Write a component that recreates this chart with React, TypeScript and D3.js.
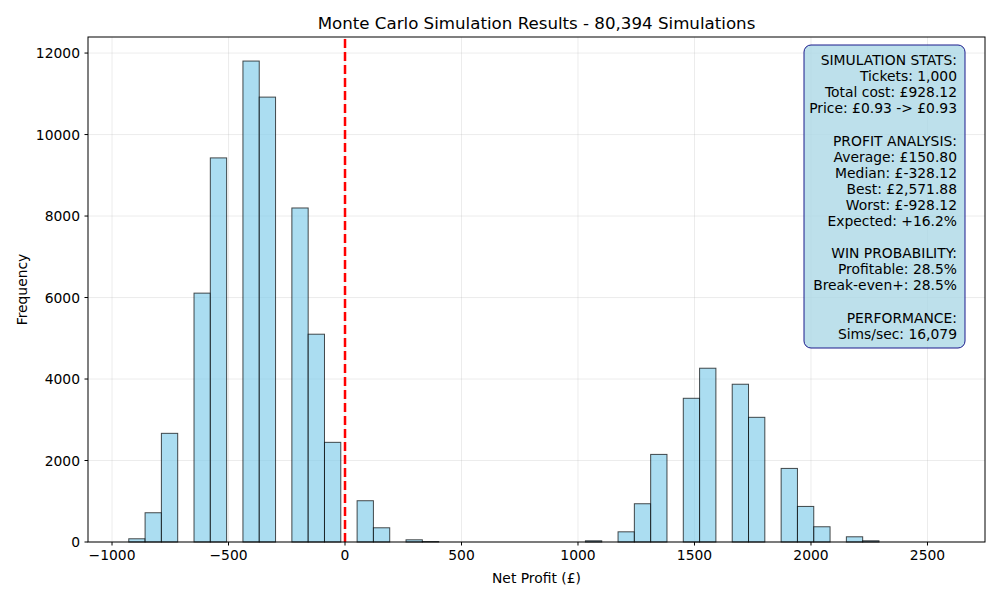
import * as d3 from 'd3';

// histogram of net profit, 50 bins from worst to best outcome
const binStart = -928.12;
const binEnd = 2571.88;
const binCounts = [
  79, 718, 2667, 0, 6108, 9427, 0, 11804, 10919, 0,
  8198, 5100, 2446, 0, 1013, 349, 0, 54, 12, 0,
  0, 0, 0, 0, 0, 0, 0, 0, 30, 0,
  250, 939, 2150, 0, 3527, 4265, 0, 3872, 3060, 0,
  1806, 873, 374, 0, 128, 30, 0, 0, 0, 0,
];
const xTicks = [-1000, -500, 0, 500, 1000, 1500, 2000, 2500];
const yTicks = [0, 2000, 4000, 6000, 8000, 10000, 12000];
const statsLines = [
  'SIMULATION STATS:',
  'Tickets: 1,000',
  'Total cost: £928.12',
  'Price: £0.93 -> £0.93',
  '',
  'PROFIT ANALYSIS:',
  'Average: £150.80',
  'Median: £-328.12',
  'Best: £2,571.88',
  'Worst: £-928.12',
  'Expected: +16.2%',
  '',
  'WIN PROBABILITY:',
  'Profitable: 28.5%',
  'Break-even+: 28.5%',
  '',
  'PERFORMANCE:',
  'Sims/sec: 16,079',
];

const W = 1000;
const H = 600;
const m = { left: 88, right: 15, top: 37, bottom: 58 };
const font = '"DejaVu Sans", sans-serif';
const fs = 13.89; // 10pt at 100 dpi

export default function App() {
  const binW = (binEnd - binStart) / binCounts.length;
  const span = binEnd - binStart;
  const x = d3.scaleLinear()
    .domain([binStart - 0.05 * span, binEnd + 0.05 * span])
    .range([m.left, W - m.right]);
  const maxC = d3.max(binCounts) || 1;
  const y = d3.scaleLinear()
    .domain([0, maxC * 1.05])
    .range([H - m.bottom, m.top]);
  const x0 = m.left, x1 = W - m.right, y0 = H - m.bottom, y1 = m.top;

  const boxRight = 965, boxTop = 45, lineH = 16.1;
  const boxH = 303;

  return (
    <svg width={W} height={H} style={{ position: 'absolute', left: 0, top: 0, fontFamily: font }}>
      <rect width={W} height={H} fill="white" />
      {/* grid */}
      {xTicks.map(t => (
        <line key={'gx' + t} x1={x(t)} x2={x(t)} y1={y0} y2={y1} stroke="#b0b0b0" strokeOpacity={0.3} strokeWidth={0.8} />
      ))}
      {yTicks.map(t => (
        <line key={'gy' + t} x1={x0} x2={x1} y1={y(t)} y2={y(t)} stroke="#b0b0b0" strokeOpacity={0.3} strokeWidth={0.8} />
      ))}
      {/* bars */}
      {binCounts.map((c, i) => {
        const a = x(binStart + i * binW);
        const b = x(binStart + (i + 1) * binW);
        return (
          <rect key={i} x={a} y={y(c)} width={b - a} height={y(0) - y(c)}
            fill="#87CEEB" fillOpacity={0.7} stroke="black" strokeOpacity={0.7} strokeWidth={1} />
        );
      })}
      {/* break-even line */}
      <line x1={x(0)} x2={x(0)} y1={y0} y2={y1} stroke="red" strokeWidth={2.5} strokeDasharray="9,4" />
      {/* frame */}
      <rect x={x0} y={y1} width={x1 - x0} height={y0 - y1} fill="none" stroke="black" strokeWidth={1} />
      {/* ticks */}
      {xTicks.map(t => (
        <g key={'tx' + t}>
          <line x1={x(t)} x2={x(t)} y1={y0} y2={y0 + 3.5} stroke="black" />
          <text x={x(t)} y={y0 + 18} textAnchor="middle" fontSize={fs}>{t < 0 ? '\u2212' + Math.abs(t) : t}</text>
        </g>
      ))}
      {yTicks.map(t => (
        <g key={'ty' + t}>
          <line x1={x0 - 3.5} x2={x0} y1={y(t)} y2={y(t)} stroke="black" />
          <text x={x0 - 8} y={y(t) + 5} textAnchor="end" fontSize={fs}>{t}</text>
        </g>
      ))}
      <text x={(x0 + x1) / 2} y={583} textAnchor="middle" fontSize={fs}>Net Profit (£)</text>
      <text transform={`translate(26.5,${(y0 + y1) / 2}) rotate(-90)`} textAnchor="middle" fontSize={fs}>Frequency</text>
      <text x={(x0 + x1) / 2} y={29} textAnchor="middle" fontSize={16.67}>Monte Carlo Simulation Results - 80,394 Simulations</text>
      {/* stats box */}
      <rect x={804} y={boxTop} width={boxRight - 804} height={boxH} rx={7}
        fill="lightblue" fillOpacity={0.8} stroke="#1a1a8c" strokeWidth={1} />
      {statsLines.map((s, i) => (
        <text key={'s' + i} x={957} y={boxTop + 20 + i * lineH} textAnchor="end" fontSize={fs}>{s}</text>
      ))}
    </svg>
  );
}
